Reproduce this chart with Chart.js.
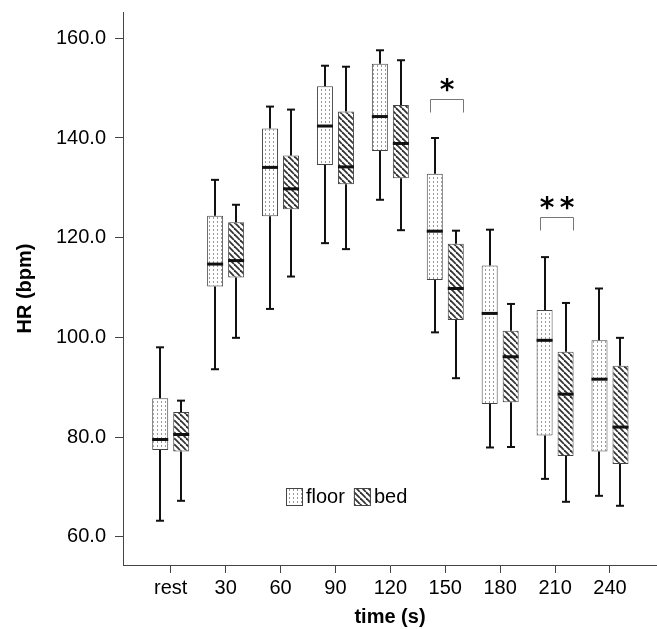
<!DOCTYPE html>
<html><head><meta charset="utf-8">
<script src="https://cdn.jsdelivr.net/npm/chart.js@4"></script>
<style>html,body{margin:0;padding:0;background:#fff}canvas{display:block}</style>
</head><body>
<canvas id="c" width="657" height="629"></canvas>
<script>
// ---- data ----
const categories = ['rest','30','60','90','120','150','180','210','240'];
const yTicks = [60, 80, 100, 120, 140, 160];
const seriesNames = ['floor', 'bed'];

const floorMin = [63.2, 93.6, 105.7, 118.9, 127.6, 101.0, 77.9, 71.6, 68.2];
const floorQ1  = [77.4, 110.2, 124.3, 134.6, 137.4, 111.5, 86.6, 80.3, 77.1];
const floorMed = [79.5, 114.7, 134.1, 142.4, 144.3, 121.3, 104.8, 99.4, 91.6];
const floorQ3  = [87.8, 124.4, 141.9, 150.4, 154.9, 132.8, 114.4, 105.5, 99.4];
const floorMax = [98.0, 131.6, 146.3, 154.5, 157.6, 140.0, 121.6, 116.1, 109.8];

const bedMin = [67.2, 99.9, 112.2, 117.7, 121.5, 91.8, 78.0, 67.0, 66.2];
const bedQ1  = [77.1, 112.0, 125.7, 130.7, 131.9, 103.5, 87.0, 76.2, 74.6];
const bedMed = [80.5, 115.4, 129.8, 134.2, 138.9, 109.8, 96.1, 88.6, 82.0];
const bedQ3  = [85.0, 123.1, 136.5, 145.3, 146.6, 118.8, 101.3, 97.1, 94.3];
const bedMax = [87.3, 126.6, 145.7, 154.3, 155.6, 121.4, 106.7, 106.9, 99.9];

const sigCategories = [5, 7];
const sigLabels = ['*', '**'];
const sigLevels = [147.8, 124.2];

// ---- styling ----
const FONT = "'Liberation Sans', Arial, sans-serif";
function makeDotPattern(ctx) {
  const t = document.createElement('canvas'); t.width = 4; t.height = 4;
  const g = t.getContext('2d');
  g.fillStyle = '#fff'; g.fillRect(0, 0, 4, 4);
  g.fillStyle = '#999'; g.fillRect(1, 1, 1, 2);
  return ctx.createPattern(t, 'repeat');
}
function makeHatchPattern(ctx) {
  const s = 6;
  const t = document.createElement('canvas'); t.width = s; t.height = s;
  const g = t.getContext('2d');
  g.fillStyle = '#fff'; g.fillRect(0, 0, s, s);
  g.strokeStyle = '#333'; g.lineWidth = 1.8;
  [-s, 0, s].forEach(k => { g.beginPath(); g.moveTo(k, 0); g.lineTo(k + s, s); g.stroke(); });
  return ctx.createPattern(t, 'repeat');
}

const canvas = document.getElementById('c');
const ctx0 = canvas.getContext('2d');
const dotPattern = makeDotPattern(ctx0);
const hatchPattern = makeHatchPattern(ctx0);

const stats = [
  [floorMin, floorQ1, floorMed, floorQ3, floorMax],
  [bedMin, bedQ1, bedMed, bedQ3, bedMax]
];
const patterns = [dotPattern, hatchPattern];

const boxPlugin = {
  id: 'boxplotExtras',
  afterDatasetsDraw(chart) {
    const ctx = chart.ctx, ys = chart.scales.y, area = chart.chartArea;
    const line = (x1, y1, x2, y2) => { ctx.beginPath(); ctx.moveTo(x1, y1); ctx.lineTo(x2, y2); ctx.stroke(); };
    ctx.save();
    stats.forEach((st, d) => {
      const meta = chart.getDatasetMeta(d);
      meta.data.forEach((bar, i) => {
        const cx = Math.round(bar.x), w = bar.width;
        const yMin = ys.getPixelForValue(st[0][i]);
        const yQ1 = ys.getPixelForValue(st[1][i]);
        const yMed = ys.getPixelForValue(st[2][i]);
        const yQ3 = ys.getPixelForValue(st[3][i]);
        const yMax = ys.getPixelForValue(st[4][i]);
        ctx.strokeStyle = '#111'; ctx.lineWidth = 2; ctx.lineCap = 'butt';
        line(cx, yMax, cx, yQ3);
        line(cx, yQ1, cx, yMin);
        line(cx - 4, yMax, cx + 4, yMax);
        line(cx - 4, yMin, cx + 4, yMin);
        ctx.lineWidth = 3;
        line(bar.x - w / 2, yMed, bar.x + w / 2, yMed);
      });
    });
    // significance brackets
    const m0 = chart.getDatasetMeta(0), m1 = chart.getDatasetMeta(1);
    sigCategories.forEach((c, k) => {
      const b0 = m0.data[c], b1 = m1.data[c];
      const x1 = Math.round(b0.x - b0.width / 2 + 3) + 0.5, x2 = Math.round(b1.x + b1.width / 2 - 1) + 0.5;
      const yb = Math.round(ys.getPixelForValue(sigLevels[k])) + 0.5;
      ctx.strokeStyle = '#777'; ctx.lineWidth = 1;
      ctx.beginPath(); ctx.moveTo(x1, yb + 13); ctx.lineTo(x1, yb); ctx.lineTo(x2, yb); ctx.lineTo(x2, yb + 13); ctx.stroke();
      ctx.fillStyle = '#000'; ctx.font = "bold 28px 'DejaVu Sans', sans-serif"; ctx.textAlign = 'center'; ctx.textBaseline = 'alphabetic';
      const chars = sigLabels[k].split('');
      const mx = (x1 + x2) / 2, cy = yb - 15, gap = 20;
      chars.forEach((ch, j) => {
        const m = ctx.measureText(ch);
        const base = cy + (m.actualBoundingBoxAscent - m.actualBoundingBoxDescent) / 2;
        ctx.fillText(ch, mx + (j - (chars.length - 1) / 2) * gap, base);
      });
    });
    // legend (inside plot)
    let lx = area.left + 163;
    const ly = area.bottom - 77;
    ctx.font = '20px ' + FONT; ctx.textAlign = 'left'; ctx.textBaseline = 'middle';
    seriesNames.forEach((name, d) => {
      ctx.fillStyle = patterns[d]; ctx.fillRect(lx, ly, 17, 18);
      ctx.strokeStyle = '#444'; ctx.lineWidth = 1; ctx.strokeRect(lx + 0.5, ly + 0.5, 16, 17);
      ctx.fillStyle = '#000'; ctx.fillText(name, lx + 20, ly + 9);
      lx += 20 + ctx.measureText(name).width + 9;
    });
    ctx.restore();
  }
};

const makeData = (q1, q3) => categories.map((c, i) => ({ x: i, y: [q1[i], q3[i]] }));

new Chart(canvas, {
  type: 'bar',
  data: {
    datasets: [
      { label: seriesNames[0], data: makeData(floorQ1, floorQ3), backgroundColor: dotPattern,
        borderColor: '#444', borderWidth: 1, borderSkipped: false, categoryPercentage: 0.765, barPercentage: 0.762 },
      { label: seriesNames[1], data: makeData(bedQ1, bedQ3), backgroundColor: hatchPattern,
        borderColor: '#444', borderWidth: 1, borderSkipped: false, categoryPercentage: 0.765, barPercentage: 0.762 }
    ]
  },
  options: {
    responsive: false, animation: false, devicePixelRatio: 1,
    layout: { padding: { top: 12, right: 0, left: 0, bottom: 0 } },
    plugins: { legend: { display: false }, tooltip: { enabled: false } },
    scales: {
      x: {
        type: 'linear', min: -0.869, max: 8.856, offset: false,
        grid: { display: true, offset: false, drawOnChartArea: false, drawTicks: true, tickLength: 8, color: '#444', lineWidth: 1 },
        border: { display: true, color: '#444', width: 1 },
        afterBuildTicks: s => { s.ticks = categories.map((c, i) => ({ value: i })); },
        afterFit: s => { s.height = 64; s.paddingLeft = 0; s.paddingRight = 0; },
        ticks: { callback: v => categories[v], font: { family: FONT, size: 20 }, color: '#000', padding: 3, maxRotation: 0, autoSkip: false },
        title: { display: true, text: 'time (s)', font: { family: FONT, size: 20, weight: 'bold' }, color: '#000', padding: { top: 0, bottom: 0 } }
      },
      y: {
        type: 'linear', min: 54.32, max: 165.28,
        grid: { display: true, drawOnChartArea: false, drawTicks: true, tickLength: 8, color: '#444', lineWidth: 1 },
        border: { display: true, color: '#444', width: 1 },
        afterBuildTicks: s => { s.ticks = yTicks.map(v => ({ value: v })); },
        afterFit: s => { s.width = 123; s.paddingTop = 0; s.paddingBottom = 0; },
        ticks: { callback: v => Number(v).toFixed(1), font: { family: FONT, size: 20 }, color: '#000', padding: 9 },
        title: { display: true, text: 'HR (bpm)', font: { family: FONT, size: 20, weight: 'bold' }, color: '#000', padding: { top: 13, bottom: 0 } }
      }
    }
  },
  plugins: [boxPlugin]
});
</script>
</body></html>
